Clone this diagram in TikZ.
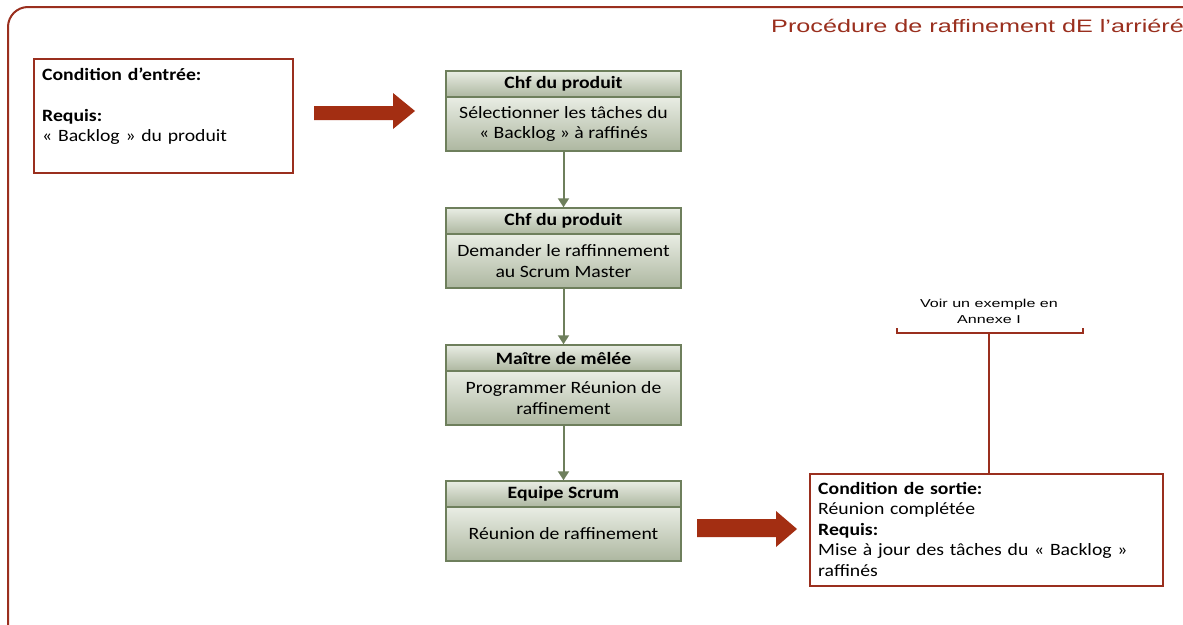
\documentclass[tikz,border=0pt]{standalone}
\usepackage{fontspec}
\setmainfont{Carlito}[FakeStretch=1.14]
\newfontfamily\arialx{Liberation Sans}[FakeStretch=1.4]
\usetikzlibrary{arrows.meta}
\definecolor{frame}{HTML}{9A2F1E}
\definecolor{arrowred}{HTML}{A32E12}
\definecolor{gborder}{HTML}{6E7F5C}
\definecolor{gtop}{HTML}{E9EDE4}
\definecolor{gbot}{HTML}{ADB7A0}
\tikzset{
  hdr/.style={draw=gborder, line width=1.5pt, top color=gtop, bottom color=gbot,
    minimum width=235pt, minimum height=26pt, inner sep=0pt,
    font=\bfseries\fontsize{17.3}{20.5}\selectfont, text=black},
  bdy/.style={draw=gborder, line width=1.5pt, top color=gtop, bottom color=gbot,
    minimum width=235pt, minimum height=54pt, inner sep=0pt, align=center,
    font=\fontsize{17.3}{20.5}\selectfont, text=black},
  condbox/.style={draw=frame, line width=1.5pt, fill=white, anchor=north west, inner sep=0pt},
  condtext/.style={anchor=base west, inner sep=0pt, text width=340pt, align=left,
    font=\fontsize{17.3}{20.5}\selectfont},
  flow/.style={draw=gborder, line width=2pt, -{Triangle[width=11pt,length=9pt]}},
  bigarrow/.style={fill=arrowred},
  redline/.style={draw=frame, line width=1.6pt},
}
\begin{document}
\begin{tikzpicture}[x=1pt,y=-1pt]
\useasboundingbox (0,0) rectangle (1183,624);
\fill[white] (0,0) rectangle (1183,624);
% frame
\draw[frame, line width=2pt, rounded corners=20pt] (1200,7) -- (8,7) -- (8,640);
\node[anchor=base west, text=frame, inner sep=0pt, font=\arialx\fontsize{18}{20}\selectfont] (title) at (771,32) {Procédure de raffinement dE l’arriéré};

% entry box
\node[condbox, minimum width=259pt, minimum height=114pt] (entry) at (33,58) {};
\node[condtext] (entrytext) at (42,80) {\textbf{Condition d’entrée:}\\\mbox{}\\\textbf{Requis:}\\« Backlog » du produit};

% big arrows
\fill[bigarrow] (314,106) -- (393,106) -- (393,93) -- (415,111) -- (393,129) -- (393,120) -- (314,120) -- cycle;
\fill[bigarrow] (697,519) -- (776,519) -- (776,511) -- (797,529) -- (776,547) -- (776,537) -- (697,537) -- cycle;

% flow boxes
\node[hdr] (h1) at (563.5,84) {Chf du produit};
\node[bdy] (b1) at (563.5,124) {Sélectionner les tâches du\\« Backlog » à raffinés};
\node[hdr] (h2) at (563.5,221) {Chf du produit};
\node[bdy] (b2) at (563.5,261) {Demander le raffinnement\\au Scrum Master};
\node[hdr] (h3) at (563.5,358) {Maître de mêlée};
\node[bdy] (b3) at (563.5,398) {Programmer Réunion de\\raffinement};
\node[hdr] (h4) at (563.5,494) {Equipe Scrum};
\node[bdy] (b4) at (563.5,534) {Réunion de raffinement};

\draw[flow] (b1.south) -- (h2.north);
\draw[flow] (b2.south) -- (h3.north);
\draw[flow] (b3.south) -- (h4.north);

% exit box
\node[condbox, minimum width=353pt, minimum height=112pt] (exit) at (809,473) {};
\node[condtext] (exittext) at (818,494) {\textbf{Condition de sortie:}\\Réunion complétée\\\textbf{Requis:}\\Mise à jour des tâches du « Backlog »\\raffinés};

% bracket note
\node[align=center, inner sep=0pt, font=\arialx\fontsize{11.5}{16}\selectfont] (note) at (989,311) {Voir un exemple en\\Annexe I};
\coordinate (bl) at (897,328);
\coordinate (br) at (1083,328);
\coordinate (bm) at (989,333);
\draw[redline] (bl) -- (bl |- bm) -- (br |- bm) -- (br);
\draw[redline] (bm) -- (bm |- exit.north);
\end{tikzpicture}
\end{document}
